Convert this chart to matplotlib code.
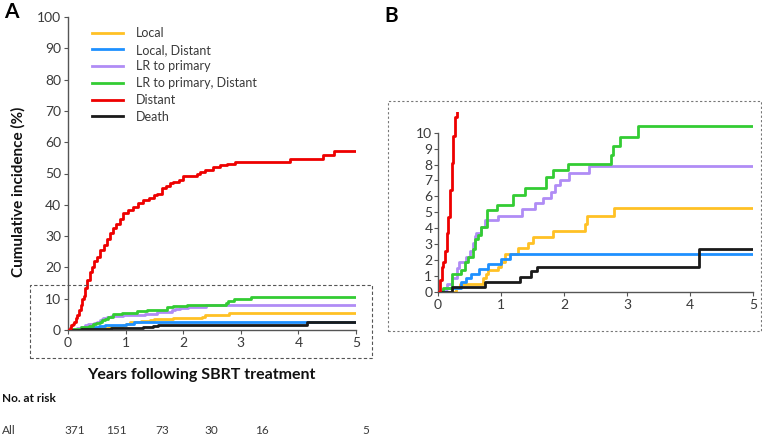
import matplotlib
matplotlib.use("Agg")
import matplotlib.pyplot as plt
from matplotlib.patches import Rectangle

plt.rcParams['font.family'] = ['Lato', 'DejaVu Sans']

# ---- data (years, cumulative incidence %) ----
labels = ["Local", "Local, Distant", "LR to primary", "LR to primary, Distant", "Distant", "Death"]
colors = ["#FFC125", "#1E90FF", "#B08CF5", "#33CC33", "#EE0000", "#1A1A1A"]

local_t = [0, 0.28, 0.35, 0.72, 0.76, 0.80, 0.95, 1.00, 1.07, 1.27, 1.43, 1.50, 1.83, 2.33, 2.37, 2.80, 5.0]
local_v = [0, 0.25, 0.5, 0.85, 1.1, 1.4, 1.55, 1.9, 2.4, 2.75, 3.05, 3.45, 3.8, 4.3, 4.75, 5.3, 5.3]

locdist_t = [0, 0.13, 0.37, 0.45, 0.53, 0.65, 0.80, 1.00, 1.15, 5.0]
locdist_v = [0, 0.27, 0.6, 0.9, 1.15, 1.45, 1.75, 2.05, 2.4, 2.4]

lr_t = [0, 0.08, 0.15, 0.22, 0.30, 0.34, 0.45, 0.50, 0.55, 0.59, 0.61, 0.68, 0.74, 0.96, 1.33, 1.54, 1.67, 1.80, 1.86, 1.94, 2.08, 2.40, 5.0]
lr_v = [0, 0.2, 0.5, 0.9, 1.5, 1.9, 2.2, 2.6, 3.1, 3.5, 3.7, 4.1, 4.5, 4.8, 5.2, 5.6, 5.9, 6.3, 6.7, 7.0, 7.5, 7.9, 7.9]

lrdist_t = [0, 0.085, 0.22, 0.37, 0.43, 0.48, 0.56, 0.59, 0.64, 0.69, 0.78, 0.93, 1.19, 1.38, 1.72, 1.83, 2.07, 2.75, 2.78, 2.89, 3.18, 5.0]
lrdist_v = [0, 0.23, 1.1, 1.4, 1.9, 2.2, 2.7, 3.3, 3.6, 4.1, 5.15, 5.45, 6.1, 6.5, 7.2, 7.65, 8.05, 8.6, 9.15, 9.75, 10.45, 10.45]

dist_t = [0, 0.03, 0.06, 0.085, 0.11, 0.14, 0.16, 0.19, 0.22, 0.24, 0.27, 0.30, 0.33, 0.38, 0.42, 0.46,
          0.50, 0.56, 0.62, 0.67, 0.73, 0.78, 0.84, 0.90, 0.96, 1.05, 1.13, 1.22, 1.31, 1.40, 1.49, 1.54,
          1.63, 1.70, 1.77, 1.83, 1.92, 2.00, 2.24, 2.29, 2.38, 2.52, 2.64, 2.76, 2.90, 3.86, 4.42, 4.62, 5.0]
dist_v = [0, 0.75, 1.6, 1.9, 2.6, 3.7, 4.7, 6.4, 8.1, 9.8, 11.0, 13.5, 16.0, 18.5, 20.2, 22.0,
          23.4, 25.5, 27.2, 29.0, 30.9, 32.5, 34.0, 35.5, 37.3, 38.3, 39.4, 40.5, 41.5, 42.3, 43.1, 43.4,
          45.3, 46.0, 47.0, 47.4, 48.0, 49.3, 50.0, 50.6, 51.1, 52.2, 52.6, 53.0, 53.8, 54.5, 55.9, 57.3, 57.3]

death_t = [0, 0.23, 0.74, 1.30, 1.47, 1.57, 4.15, 5.0]
death_v = [0, 0.3, 0.6, 0.95, 1.3, 1.6, 2.7, 2.7]

series_t = [local_t, locdist_t, lr_t, lrdist_t, dist_t, death_t]
series_v = [local_v, locdist_v, lr_v, lrdist_v, dist_v, death_v]

xticks = [0, 1, 2, 3, 4, 5]
yticks_a = list(range(0, 101, 10))
yticks_b = list(range(0, 11))
risk_label = "All"
risk_counts = ["371", "151", "73", "30", "16", "5"]

W, H = 762, 437
fig = plt.figure(figsize=(W / 100, H / 100), dpi=100)

def fx(px):
    return px / W

def fy(py):
    return 1 - py / H

spine_col = "#555555"
tick_col = "#3a3a3a"

def style(ax, fs):
    for s in ["top", "right"]:
        ax.spines[s].set_visible(False)
    for s in ["left", "bottom"]:
        ax.spines[s].set_color(spine_col)
        ax.spines[s].set_linewidth(1.0)
    ax.tick_params(colors=spine_col, labelcolor=tick_col, labelsize=fs, length=3, width=0.8, pad=2)

# ---- Panel A ----
axA = fig.add_axes([fx(68), fy(330), fx(356 - 68), (330 - 17) / H])
order = [0, 1, 2, 3, 5, 4]
for i in order:
    axA.step(series_t[i], series_v[i], where="post", color=colors[i], lw=2.0, label=labels[i],
             zorder=3 if i == 4 else 2)
axA.set_xlim(0, 5)
axA.set_ylim(0, 100)
axA.set_xticks(xticks)
axA.set_yticks(yticks_a)
style(axA, 10)
axA.set_ylabel("Cumulative incidence (%)", fontsize=11, fontweight="bold", color="#111111")
axA.yaxis.set_label_coords((18 - 68) / 288, (330 - 192) / 313)
axA.set_xlabel("Years following SBRT treatment", fontsize=11.5, fontweight="bold", color="#111111")
axA.xaxis.set_label_coords((201.5 - 68) / 288, -(375 - 330) / 313)
axA.xaxis.label.set_va("center")
axA.yaxis.label.set_va("center")

handles, labs = axA.get_legend_handles_labels()
hmap = dict(zip(labs, handles))
leg = axA.legend([hmap[l] for l in labels], labels, loc="upper left",
                 bbox_to_anchor=(fx(92), fy(27)), bbox_transform=fig.transFigure,
                 frameon=False, fontsize=9, handlelength=2.5, handletextpad=1.0,
                 labelspacing=0.38, borderpad=0, borderaxespad=0)
for t in leg.get_texts():
    t.set_color(tick_col)

# ---- Panel B ----
axB = fig.add_axes([fx(438), fy(292), fx(753 - 438), (292 - 112) / H])
for i in order:
    axB.step(series_t[i], series_v[i], where="post", color=colors[i], lw=2.0, zorder=3 if i == 4 else 2)
axB.set_xlim(0, 5)
axB.set_ylim(0, 11.3)
axB.spines["left"].set_bounds(0, 10)
axB.set_xticks(xticks)
axB.set_yticks(yticks_b)
style(axB, 10)
axB.tick_params(axis="y", pad=1)

# ---- dashed boxes ----
boxA = Rectangle((fx(30), fy(358)), fx(372 - 30), (358 - 285) / H, transform=fig.transFigure,
                 fill=False, ls=(0, (3, 2)), lw=0.8, ec="#555555")
boxB = Rectangle((fx(388), fy(331)), fx(761 - 388), (331 - 101) / H, transform=fig.transFigure,
                 fill=False, ls=(0, (2, 2)), lw=0.8, ec="#777777")
fig.patches.extend([boxA, boxB])

# ---- panel letters ----
fig.text(fx(4), fy(12), "A", fontsize=15, fontweight="bold", va="center", ha="left")
fig.text(fx(384), fy(16), "B", fontsize=15, fontweight="bold", va="center", ha="left")

# ---- number at risk ----
fig.text(fx(2), fy(399), "No. at risk", fontsize=8.5, fontweight="bold", va="center", ha="left", color="#111111")
fig.text(fx(2), fy(431), risk_label, fontsize=8.5, va="center", ha="left", color=tick_col)
risk_x = [75, 116, 162, 211, 262, 366]
for px, c in zip(risk_x, risk_counts):
    fig.text(fx(px), fy(431), c, fontsize=8.5, va="center", ha="center", color=tick_col)

fig.savefig("out.png", dpi=100)
